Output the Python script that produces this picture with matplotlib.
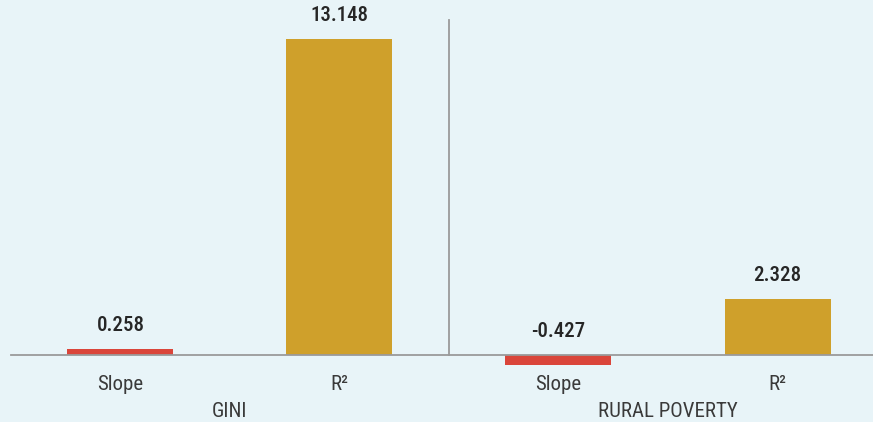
import numpy as np
import matplotlib
matplotlib.use("Agg")
import matplotlib.pyplot as plt
from matplotlib import font_manager

# Daten
categories = ["Slope", "R\u00b2", "Slope", "R\u00b2"]
values = [0.258, 13.148, -0.427, 2.328]
value_labels = ["0.258", "13.148", "-0.427", "2.328"]
groups = ["GINI", "RURAL POVERTY"]

# Farben
bg = "#e8f4f8"
bar_colors = ["#da453a", "#cfa02b", "#da453a", "#cfa02b"]

# Schrift: schmale Schrift, wenn vorhanden
names = {f.name for f in font_manager.fontManager.ttflist}
fam = [n for n in ["Liberation Sans Narrow", "Roboto Condensed", "Roboto", "DejaVu Sans"] if n in names]
plt.rcParams["font.family"] = fam

fig = plt.figure(figsize=(8.73, 4.22), dpi=100, facecolor=bg)
ax = fig.add_axes([0, 0, 1, 1], facecolor=bg)

x = np.arange(len(values))
ax.bar(x, values, width=0.484, color=bar_colors, zorder=2)

# Achsenbereich (Pixel -> Daten)
ax.set_xlim(-0.55, 3.436)
ax.set_ylim(-2.79, 14.77)
for s in ax.spines.values():
    s.set_visible(False)
ax.set_xticks([])
ax.set_yticks([])

# Grundlinie und Trennlinie
ax.plot([-0.5, 3.5], [0, 0], color="#9a9a9a", lw=1.3, zorder=3)
ax.plot([1.5, 1.5], [0, 13.94], color="#9a9a9a", lw=1.3, zorder=3)

# Wertebeschriftung
for xi, v, lab in zip(x, values, value_labels):
    top = max(v, 0)
    ax.annotate(lab, (xi, top), xytext=(0, 10), textcoords="offset points",
                ha="center", va="bottom", fontsize=15, fontweight="medium", color="#262626")

# Kategorien
for xi, c in zip(x, categories):
    ax.annotate(c, (xi, 0), xytext=(0, -21), textcoords="offset points",
                ha="center", va="center", fontsize=15, color="#3a3a3a")

# Gruppen
for gi, g in enumerate(groups):
    ax.annotate(g, (gi * 2 + 0.5, 0), xytext=(0, -41), textcoords="offset points",
                ha="center", va="center", fontsize=15, color="#3a3a3a")

fig.savefig("out.png", dpi=100, facecolor=bg)
